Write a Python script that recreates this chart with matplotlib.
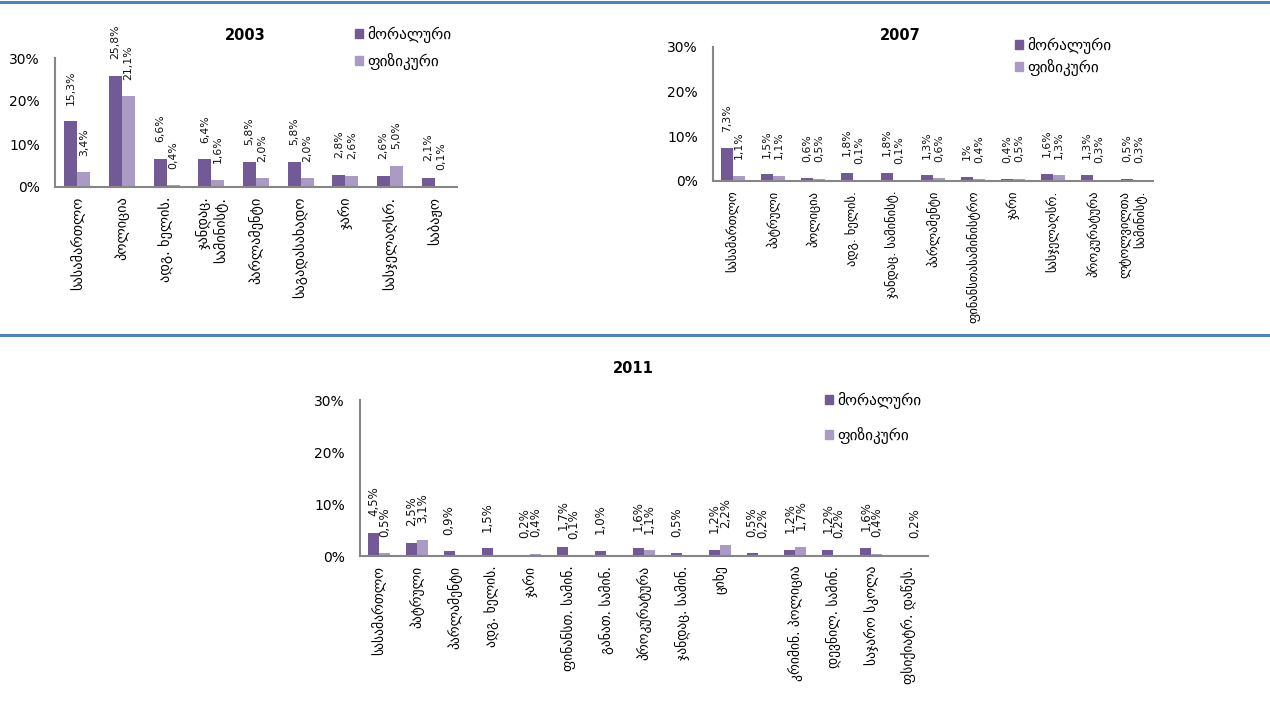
import matplotlib
matplotlib.use("Agg")
import matplotlib.pyplot as plt
import numpy as np
from matplotlib.patches import Patch
from matplotlib.lines import Line2D

nan = np.nan

# 2003
cats_2003 = ["სასამართლო", "პოლიცია", "ადგ. ხელის.", "ჯანდაც.\nსამინისტ.",
             "პარლამენტი", "საგადასახადო", "ჯარი", "სასჯელაღსრ.", "საბაჟო"]
moral_2003 = [15.3, 25.8, 6.6, 6.4, 5.8, 5.8, 2.8, 2.6, 2.1]
phys_2003 = [3.4, 21.1, 0.4, 1.6, 2.0, 2.0, 2.6, 5.0, 0.1]

# 2007
cats_2007 = ["სასამართლო", "პატრული", "პოლიცია", "ადგ. ხელის.", "ჯანდაც. სამინისტ.",
             "პარლამენტი", "ფინანსთასამინისტრო", "ჯარი", "სასჯელაღსრ.",
             "პროკურატურა", "ლტოლვილთა\nსამინისტ."]
moral_2007 = [7.3, 1.5, 0.6, 1.8, 1.8, 1.3, 1.0, 0.4, 1.6, 1.3, 0.5]
phys_2007 = [1.1, 1.1, 0.5, 0.1, 0.1, 0.6, 0.4, 0.5, 1.3, 0.3, 0.3]
moral_2007_text = {6: "1%"}

# 2011
cats_2011 = ["სასამართლო", "პატრული", "პარლამენტი", "ადგ. ხელის.", "ჯარი",
             "ფინანსთ. სამინ.", "განათ. სამინ.", "პროკურატურა", "ჯანდაც. სამინ.",
             "ციხე", "", "კრიმინ. პოლიცია", "დევნილ. სამინ.", "საჯარო სკოლა",
             "ფსიქიატრ. დაწეს."]
moral_2011 = [4.5, 2.5, 0.9, 1.5, 0.2, 1.7, 1.0, 1.6, 0.5, 1.2, 0.5, 1.2, 1.2, 1.6, nan]
phys_2011 = [0.5, 3.1, nan, nan, 0.4, 0.1, nan, 1.1, nan, 2.2, 0.2, 1.7, 0.2, 0.4, 0.2]

series_names = ["მორალური", "ფიზიკური"]
c_moral = "#725A96"
c_phys = "#A99BC4"
axis_grey = "#868686"

plt.rcParams["font.family"] = ["DejaVu Sans"]

W, H = 1270, 711
fig = plt.figure(figsize=(W / 100, H / 100), dpi=100)


def fx(px):
    return px / W


def fy(py):
    return 1 - py / H


def fmt(v):
    return f"{v:.1f}".replace(".", ",") + "%"


def panel(box, title, cats, moral, phys, title_xy, leg_xy, leg_space,
          cat_size=10, val_size=7.8, overrides=None):
    x0, y_top, x1, y_zero = box
    ax = fig.add_axes([fx(x0), fy(y_zero), fx(x1) - fx(x0), fy(y_top) - fy(y_zero)])
    n = len(cats)
    x = np.arange(n)
    w = 0.29
    overrides = overrides or {}
    ax.bar(x - w / 2, moral, w, color=c_moral)
    ax.bar(x + w / 2, phys, w, color=c_phys)
    for i in range(n):
        for off, vals, ov in ((-w / 2, moral, overrides), (w / 2, phys, {})):
            v = vals[i]
            if np.isnan(v):
                continue
            ax.annotate(ov.get(i, fmt(v)), (x[i] + off, v), xytext=(0, 12),
                        textcoords="offset points", rotation=90, ha="center",
                        va="bottom", fontsize=val_size, color="#111111")
    ax.set_xlim(-0.5, n - 0.5)
    ax.set_ylim(0, 30)
    ax.set_yticks([0, 10, 20, 30])
    ax.set_yticklabels(["0%", "10%", "20%", "30%"])
    ax.set_xticks(x)
    ax.set_xticklabels(cats, rotation=90, fontsize=cat_size)
    for lab in ax.get_xticklabels():
        lab.set_multialignment("right")
    ax.tick_params(axis="x", length=0, pad=7)
    ax.tick_params(axis="y", length=0, pad=11, labelsize=10)
    for s in ("top", "right"):
        ax.spines[s].set_visible(False)
    for s in ("left", "bottom"):
        ax.spines[s].set_color(axis_grey)
        ax.spines[s].set_linewidth(1.5)
    fig.text(fx(title_xy[0]), fy(title_xy[1]), title, ha="center", va="center",
             fontsize=10.5, fontweight="bold")
    handles = [Patch(color=c_moral), Patch(color=c_phys)]
    fig.legend(handles, series_names, loc="upper left",
               bbox_to_anchor=(fx(leg_xy[0]), fy(leg_xy[1])), frameon=False,
               fontsize=11, handlelength=0.55, handleheight=0.55,
               handletextpad=0.25, labelspacing=leg_space, borderpad=0,
               borderaxespad=0)
    return ax


panel((55, 58, 457, 187), "2003", cats_2003, moral_2003, phys_2003,
      (245, 35), (355, 26), 0.65, cat_size=10.3)
panel((713, 47, 1153, 181), "2007", cats_2007, moral_2007, phys_2007,
      (900, 35), (1015, 37), 0.35, cat_size=9.0, overrides=moral_2007_text)
panel((360, 400, 928, 556), "2011", cats_2011, moral_2011, phys_2011,
      (633, 368), (825, 392), 1.15, cat_size=9.8, val_size=8.5)

# blue separator lines
for y in (1.5, 334.5):
    fig.add_artist(Line2D([0, 1], [fy(y), fy(y)], transform=fig.transFigure,
                          color="#4F81BD", linewidth=2.2))

fig.savefig("out.png", dpi=100)
